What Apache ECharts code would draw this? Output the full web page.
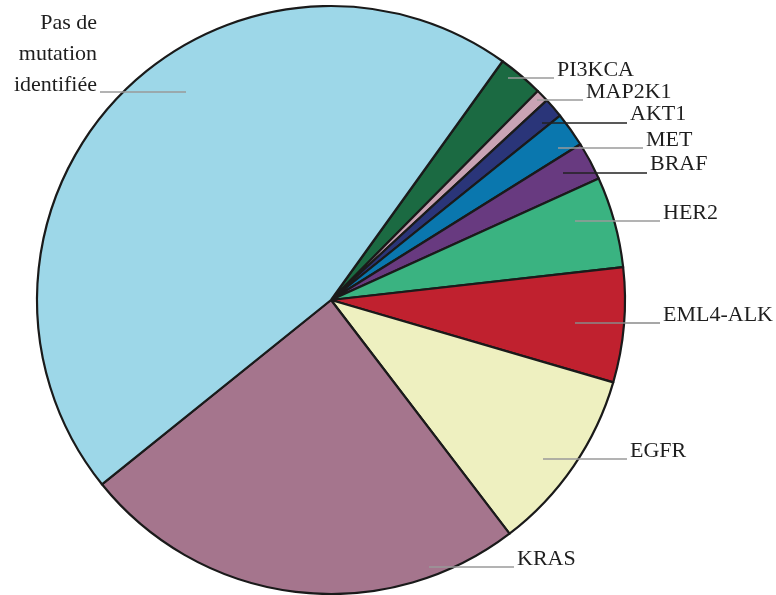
<!DOCTYPE html>
<html>
<head>
<meta charset="utf-8">
<script src="https://cdn.jsdelivr.net/npm/echarts@6/dist/echarts.min.js"></script>
<style>html,body{margin:0;padding:0;background:#fff}#c{width:776px;height:595px}</style>
</head>
<body>
<div id="c"></div>
<script>
const categories = ['PI3KCA','MAP2K1','AKT1','MET','BRAF','HER2','EML4-ALK','EGFR','KRAS','Pas de\nmutation\nidentifiée'];
const values = [2.5, 0.7, 1.1, 1.9, 2.1, 5.0, 6.3, 10.1, 24.6, 45.7];
const colors = ['#1b6a42','#c9a3b4','#2a3579','#0a77ae','#683a80','#3ab381','#c0212f','#eef0c0','#a5758d','#9dd7e8'];
const lineColors = ['#9a9a9a','#9a9a9a','#222222','#9a9a9a','#222222','#9a9a9a','#8a8a8a','#9a9a9a','#9a9a9a','#9a9a9a'];
// label layout: [text x, text y (middle), line start x, line y, align]
const labelPos = [
  [557, 70, 508, 78, 'left'],
  [586, 92, 537, 100, 'left'],
  [630, 114, 542, 123, 'left'],
  [646, 140, 558, 148, 'left'],
  [650, 164, 563, 173, 'left'],
  [663, 213, 575, 221, 'left'],
  [663, 315, 575, 323, 'left'],
  [630, 451, 543, 459, 'left'],
  [517, 559, 429, 567, 'left'],
  [97, 54, 186, 92, 'right']
];
const chart = echarts.init(document.getElementById('c'));
const common = {
  type: 'pie',
  center: [331, 300],
  radius: [0, 294],
  startAngle: 54.3,
  clockwise: true,
  avoidLabelOverlap: false,
  silent: true
};
chart.setOption({
  animation: false,
  series: [
    Object.assign({}, common, {
      z: 2,
      itemStyle: { borderColor: '#1a1a1a', borderWidth: 2.2 },
      label: { show: false },
      labelLine: { show: false },
      data: categories.map((c, i) => ({ name: c, value: values[i], itemStyle: { color: colors[i] } }))
    }),
    Object.assign({}, common, {
      z: 5,
      itemStyle: { color: 'rgba(0,0,0,0)', borderWidth: 0 },
      label: {
        show: true,
        position: 'outside',
        fontFamily: 'Liberation Serif',
        fontSize: 22,
        color: '#1e1e1e',
        lineHeight: 31
      },
      labelLine: { show: true, lineStyle: { width: 1.5 } },
      labelLayout: function (p) {
        const L = labelPos[p.dataIndex];
        const lineEnd = L[4] === 'left' ? L[0] - 3 : L[0] + 3;
        return {
          x: L[0], y: L[1], align: L[4], verticalAlign: 'middle',
          labelLinePoints: [[L[2], L[3]], [(L[2] + lineEnd) / 2, L[3]], [lineEnd, L[3]]]
        };
      },
      data: categories.map((c, i) => ({
        name: c, value: values[i],
        labelLine: { lineStyle: { color: lineColors[i] } },
        label: i === 9 ? { align: 'right' } : {}
      }))
    })
  ]
});
</script>
</body>
</html>
